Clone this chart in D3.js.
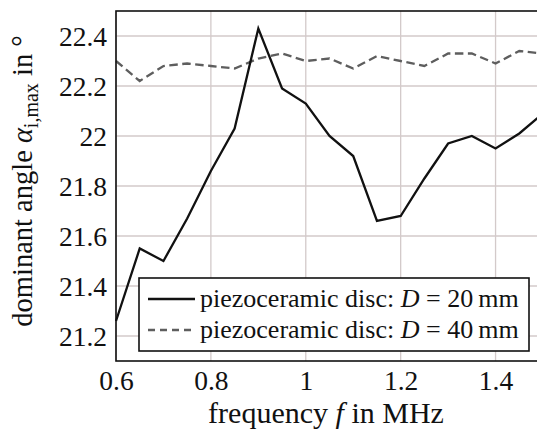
<!DOCTYPE html>
<html>
<head>
<meta charset="utf-8">
<script src="https://cdn.jsdelivr.net/npm/d3@7"></script>
<style>
  html, body { margin: 0; padding: 0; background: #fff; }
  svg { display: block; }
  text { font-family: "Liberation Serif", "DejaVu Serif", "Noto Serif", serif; fill: #111; }
</style>
</head>
<body>
<svg id="chart" width="537" height="434"></svg>
<script>
// Excitation frequency in MHz
const frequency = [0.6, 0.65, 0.7, 0.75, 0.8, 0.85, 0.9, 0.95, 1.0, 1.05,
                   1.1, 1.15, 1.2, 1.25, 1.3, 1.35, 1.4, 1.45, 1.5];
// Dominant angle (degrees) for the 20 mm disc
const angleD20 = [21.26, 21.55, 21.50, 21.67, 21.86, 22.03, 22.43, 22.19, 22.13, 22.00,
                  21.92, 21.66, 21.68, 21.83, 21.97, 22.00, 21.95, 22.01, 22.09];
// Dominant angle (degrees) for the 40 mm disc
const angleD40 = [22.30, 22.22, 22.28, 22.29, 22.28, 22.27, 22.31, 22.33, 22.30, 22.31,
                  22.27, 22.32, 22.30, 22.28, 22.33, 22.33, 22.29, 22.34, 22.33];

const xTicks = [0.6, 0.8, 1.0, 1.2, 1.4];
const yTicks = [21.2, 21.4, 21.6, 21.8, 22.0, 22.2, 22.4];
const legendLabels = ["20", "40"];

const svg = d3.select("#chart");
const plotL = 116, plotR = 543, plotT = 11, plotB = 361;
const serif = '"Liberation Serif", "DejaVu Serif", "Noto Serif", serif';

const x = d3.scaleLinear().domain([0.6, 1.5]).range([plotL, plotR]);
const y = d3.scaleLinear().domain([21.1, 22.5]).range([plotB, plotT]);
const fmt = v => String(+v.toFixed(1));

// grid
const grid = svg.append("g").attr("stroke", "#d3caca").attr("stroke-width", 1.3);
grid.selectAll("line.gx").data(xTicks).join("line").attr("class", "gx")
  .attr("x1", d => x(d)).attr("x2", d => x(d)).attr("y1", plotT).attr("y2", plotB);
grid.selectAll("line.gy").data(yTicks).join("line").attr("class", "gy")
  .attr("y1", d => y(d)).attr("y2", d => y(d)).attr("x1", plotL).attr("x2", plotR);

// axes with labels only (box drawn separately)
const xAxis = svg.append("g").attr("transform", `translate(0,${plotB})`)
  .call(d3.axisBottom(x).tickValues(xTicks).tickFormat(fmt).tickSize(0).tickPadding(22));
const yAxis = svg.append("g").attr("transform", `translate(${plotL},0)`)
  .call(d3.axisLeft(y).tickValues(yTicks).tickFormat(fmt).tickSize(0).tickPadding(9));
[xAxis, yAxis].forEach(a => {
  a.attr("font-family", serif);
  a.select(".domain").remove();
  a.selectAll("text").attr("font-size", 27.5).attr("fill", "#111");
});
xAxis.selectAll("text").attr("dy", null).attr("y", 29);
yAxis.selectAll("text").attr("dy", "0.34em");

// data lines
const line = data => d3.line().x((d, i) => x(frequency[i])).y(d => y(d))(data);
svg.append("path").attr("d", line(angleD40)).attr("fill", "none")
  .attr("stroke", "#5e5e5e").attr("stroke-width", 2.3).attr("stroke-dasharray", "8.5,4.5");
svg.append("path").attr("d", line(angleD20)).attr("fill", "none")
  .attr("stroke", "#111").attr("stroke-width", 2.3).attr("stroke-linejoin", "miter");

// axis box
svg.append("rect").attr("x", plotL).attr("y", plotT)
  .attr("width", plotR - plotL).attr("height", plotB - plotT)
  .attr("fill", "none").attr("stroke", "#111").attr("stroke-width", 1.6);

// legend
const lg = svg.append("g").attr("font-family", serif);
lg.append("rect").attr("x", 139).attr("y", 278).attr("width", 390).attr("height", 73)
  .attr("fill", "#fff").attr("stroke", "#111").attr("stroke-width", 1.6);
const styles = [
  { stroke: "#111", dash: null, w: 2.3 },
  { stroke: "#5e5e5e", dash: "7,5", w: 2.3 }
];
legendLabels.forEach((lab, i) => {
  const cy = 299 + i * 31;
  lg.append("line").attr("x1", 148).attr("x2", 195).attr("y1", cy).attr("y2", cy)
    .attr("stroke", styles[i].stroke).attr("stroke-width", styles[i].w)
    .attr("stroke-dasharray", styles[i].dash);
  const t = lg.append("text").attr("x", 200).attr("y", cy + 8).attr("font-size", 26);
  t.append("tspan").text("piezoceramic disc: ");
  t.append("tspan").attr("font-style", "italic").text("D");
  t.append("tspan").text(" = " + lab + "\u2009mm");
});

// axis titles
svg.append("text").attr("x", 326).attr("y", 423)
  .attr("font-family", serif)
  .attr("text-anchor", "middle").attr("font-size", 30)
  .call(t => {
    t.append("tspan").text("frequency ");
    t.append("tspan").attr("font-style", "italic").text("f");
    t.append("tspan").text(" in MHz");
  });

svg.append("text").attr("transform", "translate(32,181) rotate(-90)")
  .attr("font-family", serif)
  .attr("text-anchor", "middle").attr("font-size", 28.5)
  .call(t => {
    t.append("tspan").text("dominant angle ");
    t.append("tspan").attr("font-style", "italic").text("\u03b1");
    t.append("tspan").attr("font-size", 20).attr("baseline-shift", "-6").text("i,max");
    t.append("tspan").text(" in \u00b0");
  });
</script>
</body>
</html>
